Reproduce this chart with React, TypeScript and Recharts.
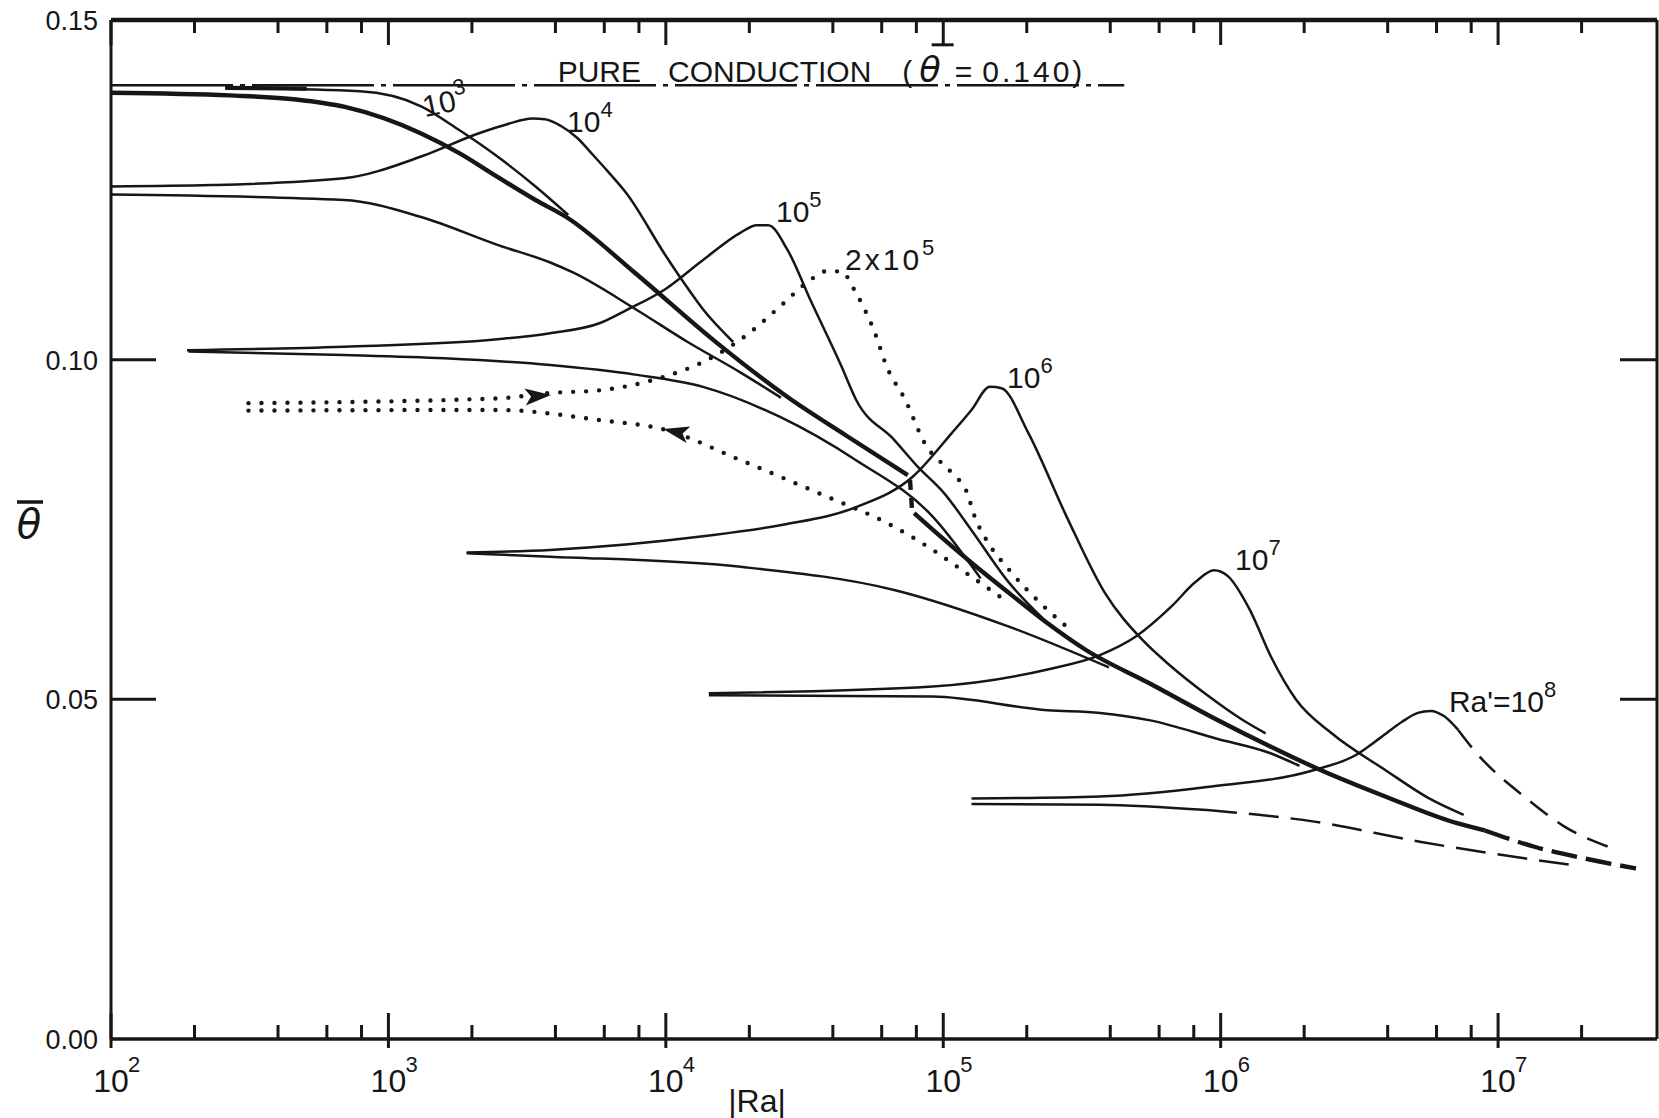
import React from 'react';
import { LineChart, Line, XAxis, YAxis, ReferenceDot } from 'recharts';

type Pt = [number, number]; // [|Ra|, mean theta]

// ---------- axes ----------
const X_TICKS = [100, 200, 400, 600, 800, 1e3, 2e3, 4e3, 6e3, 8e3, 1e4, 2e4, 4e4, 6e4, 8e4, 1e5, 2e5, 4e5, 6e5, 8e5, 1e6, 2e6, 4e6, 6e6, 8e6, 1e7, 2e7];
const Y_TICKS = [0, 0.05, 0.1, 0.15];
const X_DOMAIN: [number, number] = [100, 3.74e7];
const Y_DOMAIN: [number, number] = [0, 0.15];

// ---------- series ----------
const conduction: Pt[] = [[100, 0.1404], [4.49e5, 0.1404]];

// heavy envelope curve
const envelopeUpper: Pt[] = [[100, 0.1393], [268, 0.1389], [465, 0.1383], [697, 0.1372], [1312, 0.1333], [1800, 0.1304], [2472, 0.1269], [3390, 0.1235], [4375, 0.1210], [7730, 0.1128], [14930, 0.1028], [28120, 0.0942], [44780, 0.0888], [74500, 0.0830]];
const envelopeJog: Pt[] = [[75900, 0.0823], [77200, 0.0778]];
const envelopeLower: Pt[] = [[78530, 0.0774], [92040, 0.0749], [126400, 0.0701], [173200, 0.0656], [237700, 0.0612], [325800, 0.0573], [557600, 0.0523], [970000, 0.0470], [1.504e6, 0.0431], [2.29e6, 0.0396], [3.92e6, 0.0357], [7.064e6, 0.0318], [8.954e6, 0.0307]];
const envelopeTail: Pt[] = [[8.954e6, 0.0307], [1.353e7, 0.0283], [2.097e7, 0.0265], [3.142e7, 0.0251]];

// Ra' = 10^3
const ra3Lead: Pt[] = [[258, 0.1400], [508, 0.1399]];
const ra3: Pt[] = [[258, 0.1400], [789, 0.1395], [1312, 0.1373], [1800, 0.1338], [2472, 0.1299], [3390, 0.1255], [4450, 0.1213]];

// Ra' = 10^4
const ra4Upper: Pt[] = [[100, 0.1255], [231, 0.1257], [691, 0.1267], [1312, 0.1299], [2108, 0.1333], [2698, 0.1347], [3303, 0.1355], [3667, 0.1354], [4188, 0.1344], [4775, 0.1327], [5445, 0.1302], [6212, 0.1276], [7211, 0.1245], [9886, 0.1156], [11670, 0.1112], [13680, 0.1073], [17490, 0.1026]];
const ra4Lower: Pt[] = [[100, 0.1243], [691, 0.1235], [1312, 0.1210], [2472, 0.1169], [3831, 0.1143], [4645, 0.1128], [7730, 0.1075], [11990, 0.1026], [18610, 0.0981], [26000, 0.0944]];

// Ra' = 10^5
const ra5Upper: Pt[] = [[188, 0.1014], [691, 0.1019], [2472, 0.1030], [3831, 0.1039], [5794, 0.1054], [7211, 0.1073], [9886, 0.1103], [13550, 0.1146], [18610, 0.1187], [21230, 0.1198], [23390, 0.1198], [27420, 0.1162], [33270, 0.1087], [42870, 0.0991], [48500, 0.0941], [66530, 0.0882], [80690, 0.0843], [100500, 0.0804], [126400, 0.0749], [173200, 0.0671], [227500, 0.0620]];
const ra5Lower: Pt[] = [[190, 0.1012], [691, 0.1007], [1592, 0.1002], [3831, 0.0992], [7730, 0.0978], [13610, 0.0960], [25700, 0.0916], [48500, 0.0852], [91620, 0.0769], [136400, 0.0678]];

// Ra' = 2x10^5 (dotted)
const ra25Upper: Pt[] = [[313, 0.0936], [2472, 0.0943], [3831, 0.0951], [5794, 0.0955], [8975, 0.0970], [14930, 0.1005], [19950, 0.1039], [25760, 0.1078], [33100, 0.1117], [37580, 0.1130], [42760, 0.1130], [48500, 0.1098], [56760, 0.1039], [62520, 0.0990], [72930, 0.0941], [85740, 0.0877], [107500, 0.0833], [121900, 0.0804], [129800, 0.0769], [142900, 0.0735], [172500, 0.0691], [223400, 0.0642], [278400, 0.0607]];
const ra25Lower: Pt[] = [[313, 0.0925], [2472, 0.0926], [5794, 0.0911], [9886, 0.0897], [18610, 0.0852], [35320, 0.0804], [66530, 0.0754], [91620, 0.0720], [125900, 0.0681], [172500, 0.0642]];

// Ra' = 10^6
const ra6Upper: Pt[] = [[1914, 0.0716], [3831, 0.0720], [13610, 0.0740], [26420, 0.0757], [48500, 0.0783], [77800, 0.0828], [107900, 0.0893], [126400, 0.0926], [147200, 0.0960], [162200, 0.0958], [202100, 0.0893], [278400, 0.0769], [382000, 0.0657], [523600, 0.0587], [665000, 0.0548], [895800, 0.0506], [1.197e6, 0.0470], [1.452e6, 0.0450]];
const ra6Lower: Pt[] = [[1914, 0.0715], [3831, 0.0710], [18610, 0.0695], [66530, 0.0661], [172500, 0.0607], [395700, 0.0547]];

// Ra' = 10^7
const ra7Upper: Pt[] = [[14290, 0.0509], [91620, 0.0519], [237700, 0.0544], [367100, 0.0565], [493100, 0.0592], [662000, 0.0636], [812800, 0.0673], [946000, 0.0690], [1.064e6, 0.0681], [1.273e6, 0.0632], [1.517e6, 0.0563], [1.874e6, 0.0499], [2.513e6, 0.0450], [3.92e6, 0.0396], [5.598e6, 0.0355], [7.516e6, 0.0330]];
const ra7Lower: Pt[] = [[14290, 0.0506], [91620, 0.0504], [237700, 0.0484], [367100, 0.0480], [557600, 0.0469], [970000, 0.0442], [1.504e6, 0.0421], [1.924e6, 0.0402]];

// Ra' = 10^8
const ra8Upper: Pt[] = [[126400, 0.0354], [367100, 0.0357], [893000, 0.0371], [2.176e6, 0.0396], [3.038e6, 0.0417], [3.78e6, 0.0444], [4.51e6, 0.0467], [5.14e6, 0.0480], [5.71e6, 0.0483], [6.4e6, 0.0475], [7.18e6, 0.0455]];
const ra8UpperTail: Pt[] = [[7.18e6, 0.0455], [8.2e6, 0.0425], [1.285e7, 0.0352], [1.73e7, 0.0313], [2.614e7, 0.0280]];
const ra8Lower: Pt[] = [[126400, 0.0346], [367100, 0.0345], [893000, 0.0337]];
const ra8LowerTail: Pt[] = [[893000, 0.0337], [2.176e6, 0.0320], [5.285e6, 0.0290], [9.527e6, 0.0273], [1.853e7, 0.0256]];

// curve labels (anchor = start of baseline)
const curveLabels = [
  { base: '10', sup: '3', ra: 1355, theta: 0.1357 },
  { base: '10', sup: '4', ra: 4405, theta: 0.1335 },
  { base: '10', sup: '5', ra: 24950, theta: 0.1203 },
  { base: '2x10', sup: '5', ra: 44260, theta: 0.1132 },
  { base: '10', sup: '6', ra: 169800, theta: 0.0958 },
  { base: '10', sup: '7', ra: 1.127e6, theta: 0.0690 },
  { base: "Ra'=10", sup: '8', ra: 6.65e6, theta: 0.0481 },
];
const conductionLabel = { ra: 4074, theta: 0.1409 };
// arrow tips on the dotted 2x10^5 branches
const arrowTips = [
  { ra: 3855, theta: 0.0948 },
  { ra: 9775, theta: 0.0898 },
];

// ---------- styling ----------
const INK = '#161616';
const FONT = '"Liberation Sans", Arial, sans-serif';
const THIN = 2.5;
const THICK = 4.4;
const ARROW_ANGLES = [-4.6, 192.8];
const LABEL_STYLE: Record<number, { rotate?: number; spacing?: number }> = {
  0: { rotate: -12 },
  3: { spacing: 3 },
};

const rows = (pts: Pt[]) => pts.map(([r, t]) => ({ r, t }));

const isDecade = (v: number) => Math.abs(Math.log10(v) - Math.round(Math.log10(v))) < 1e-9;

function BottomTick(props: any) {
  const { x, y, payload } = props;
  const v = payload.value as number;
  if (!isDecade(v)) return <line x1={x} x2={x} y1={y} y2={y - 14} stroke={INK} strokeWidth={3} />;
  const e = Math.round(Math.log10(v));
  return (
    <g>
      <line x1={x} x2={x} y1={y + 9} y2={y - 26} stroke={INK} strokeWidth={3} />
      <text x={x} y={y + 53} textAnchor="middle" fontFamily={FONT} fontSize={32} fill={INK}>10</text>
      <text x={x + 17} y={y + 33} fontFamily={FONT} fontSize={22} fill={INK}>{e}</text>
    </g>
  );
}

function TopTick(props: any) {
  const { x, y, payload } = props;
  const v = payload.value as number;
  const len = isDecade(v) ? 25 : 13;
  return <line x1={x} x2={x} y1={y} y2={y + len} stroke={INK} strokeWidth={3} />;
}

function LeftTick(props: any) {
  const { x, y, payload } = props;
  const v = payload.value as number;
  const inner = v > 0.001 && v < 0.149;
  return (
    <g>
      {inner && <line x1={x} x2={x + 45} y1={y} y2={y} stroke={INK} strokeWidth={3} />}
      <text x={x - 13} y={y + 10} textAnchor="end" fontFamily={FONT} fontSize={27} fill={INK}>{v.toFixed(2)}</text>
    </g>
  );
}

function RightTick(props: any) {
  const { x, y, payload } = props;
  const v = payload.value as number;
  const inner = v > 0.001 && v < 0.149;
  return inner ? <line x1={x - 37} x2={x} y1={y} y2={y} stroke={INK} strokeWidth={3} /> : <g />;
}

const series = (key: string, pts: Pt[], width: number, extra: any = {}) => (
  <Line
    key={key}
    data={rows(pts)}
    dataKey="t"
    type="monotone"
    stroke={INK}
    strokeWidth={width}
    dot={false}
    activeDot={false}
    isAnimationActive={false}
    {...extra}
  />
);

export default function App() {
  return (
    <div style={{ position: 'absolute', left: 0, top: 0, width: 1659, height: 1118, background: '#fff' }}>
      <LineChart width={1659} height={1118} margin={{ top: 19, right: 1, bottom: 0, left: 0 }}>
        <XAxis
          dataKey="r"
          type="number"
          scale="log"
          domain={X_DOMAIN}
          allowDataOverflow
          ticks={X_TICKS}
          interval={0}
          height={79}
          tickSize={0}
          tickMargin={0}
          tickLine={false}
          axisLine={{ stroke: INK, strokeWidth: 3.5 }}
          tick={(p: any) => <BottomTick {...p} />}
        />
        <XAxis
          xAxisId="top"
          orientation="top"
          dataKey="r"
          type="number"
          scale="log"
          domain={X_DOMAIN}
          allowDataOverflow
          ticks={X_TICKS}
          interval={0}
          height={1}
          tickSize={0}
          tickMargin={0}
          tickLine={false}
          axisLine={{ stroke: INK, strokeWidth: 4.5 }}
          tick={(p: any) => <TopTick {...p} />}
        />
        <YAxis
          type="number"
          domain={Y_DOMAIN}
          allowDataOverflow
          ticks={Y_TICKS}
          interval={0}
          width={111}
          tickSize={0}
          tickMargin={0}
          tickLine={false}
          axisLine={{ stroke: INK, strokeWidth: 3 }}
          tick={(p: any) => <LeftTick {...p} />}
        />
        <YAxis
          yAxisId="right"
          orientation="right"
          type="number"
          domain={Y_DOMAIN}
          allowDataOverflow
          ticks={Y_TICKS}
          interval={0}
          width={1}
          tickSize={0}
          tickMargin={0}
          tickLine={false}
          axisLine={{ stroke: INK, strokeWidth: 3 }}
          tick={(p: any) => <RightTick {...p} />}
        />

        {series('conduction', conduction, 2.6, { type: 'linear', strokeDasharray: '122 7 5 7' })}
        {series('ra3Lead', ra3Lead, 4.2, { type: 'linear' })}
        {series('ra3', ra3, THIN)}
        {series('envUpper', envelopeUpper, THICK)}
        {series('envJog', envelopeJog, THICK, { type: 'linear', strokeDasharray: '10 8' })}
        {series('envLower', envelopeLower, THICK)}
        {series('envTail', envelopeTail, THICK, { strokeDasharray: '26 9' })}
        {series('ra4Upper', ra4Upper, THIN)}
        {series('ra4Lower', ra4Lower, THIN)}
        {series('ra5Upper', ra5Upper, THIN)}
        {series('ra5Lower', ra5Lower, THIN)}
        {series('ra25Upper', ra25Upper, 4.4, { strokeDasharray: '0 13', strokeLinecap: 'round' })}
        {series('ra25Lower', ra25Lower, 4.4, { strokeDasharray: '0 13', strokeLinecap: 'round' })}
        {series('ra6Upper', ra6Upper, THIN)}
        {series('ra6Lower', ra6Lower, THIN)}
        {series('ra7Upper', ra7Upper, THIN)}
        {series('ra7Lower', ra7Lower, THIN)}
        {series('ra8Upper', ra8Upper, THIN)}
        {series('ra8UpperTail', ra8UpperTail, THIN, { strokeDasharray: '22 12' })}
        {series('ra8Lower', ra8Lower, THIN)}
        {series('ra8LowerTail', ra8LowerTail, THIN, { strokeDasharray: '30 12' })}

        {curveLabels.map((l, i) => {
          const st = LABEL_STYLE[i] || {};
          return (
            <ReferenceDot
              key={'lab' + i}
              x={l.ra}
              y={l.theta}
              r={0}
              ifOverflow="visible"
              shape={(p: any) => (
                <text
                  x={p.cx}
                  y={p.cy}
                  fontFamily={FONT}
                  fontSize={30}
                  fill={INK}
                  letterSpacing={st.spacing || 0}
                  transform={st.rotate ? `rotate(${st.rotate} ${p.cx} ${p.cy})` : undefined}
                >
                  {l.base}
                  <tspan dy={-15} fontSize={22} letterSpacing={0}>{l.sup}</tspan>
                </text>
              )}
            />
          );
        })}

        <ReferenceDot
          x={conductionLabel.ra}
          y={conductionLabel.theta}
          r={0}
          ifOverflow="visible"
          shape={(p: any) => (
            <g>
              <text x={p.cx} y={p.cy} fontFamily={FONT} fontSize={30} fill={INK}>
                PURE
                <tspan dx={27}>CONDUCTION</tspan>
                <tspan dx={31}>(</tspan>
                <tspan dx={7} fontFamily='"DejaVu Sans", sans-serif' fontStyle="italic" fontSize={35}>θ</tspan>
                <tspan dx={14}>=</tspan>
                <tspan dx={10} letterSpacing={3}>0.140)</tspan>
              </text>
              <line x1={p.cx + 374} x2={p.cx + 396} y1={p.cy - 37} y2={p.cy - 37} stroke={INK} strokeWidth={3} />
            </g>
          )}
        />

        {arrowTips.map((a, i) => (
          <ReferenceDot
            key={'arr' + i}
            x={a.ra}
            y={a.theta}
            r={0}
            ifOverflow="visible"
            shape={(p: any) => (
              <polygon
                points="0,0 -26,-8.5 -20,0 -26,8.5"
                fill={INK}
                transform={`translate(${p.cx} ${p.cy}) rotate(${ARROW_ANGLES[i]})`}
              />
            )}
          />
        ))}
      </LineChart>

      <svg width={1659} height={1118} style={{ position: 'absolute', left: 0, top: 0, pointerEvents: 'none' }}>
        <text x={757} y={1112} textAnchor="middle" fontFamily={FONT} fontSize={32} fill={INK}>|Ra|</text>
        <text x={29} y={538} textAnchor="middle" fontFamily='"DejaVu Sans", sans-serif' fontStyle="italic" fontSize={40} fill={INK}>θ</text>
        <line x1={17} x2={43} y1={502} y2={502} stroke={INK} strokeWidth={3.5} />
      </svg>
    </div>
  );
}
